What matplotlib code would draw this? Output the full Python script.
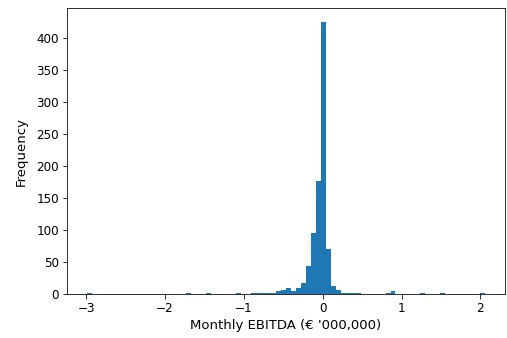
import matplotlib
matplotlib.use("Agg")
import matplotlib.pyplot as plt
import numpy as np

# histogram of monthly EBITDA, 80 bins between the min and max values
x_min, x_max = -2.99, 2.06
n_bins = 80

bin_index = [0, 20, 24, 30,
             33, 34, 35, 36, 37, 38, 39, 40, 41, 42, 43, 44, 45, 46, 47,
             48, 49, 50, 51, 52, 53, 54,
             60, 61, 67, 71, 79]
counts = [2, 2, 2, 2,
          2, 2, 2, 2, 2, 4, 6, 10, 4, 9, 17, 44, 95, 177, 425,
          70, 12, 6, 2, 2, 2, 2,
          2, 4, 2, 2, 2]

edges = np.linspace(x_min, x_max, n_bins + 1)
centers = (edges[:-1] + edges[1:]) / 2
values = centers[bin_index]

fig = plt.figure(figsize=(507/72, 338/72), dpi=72)
ax = fig.add_axes([67/507, 1 - 294/338, (505 - 67)/507, (294 - 8)/338])
ax.hist(values, bins=edges, weights=counts)
ax.set_xlabel("Monthly EBITDA (€ '000,000)", fontsize=13.2)
ax.set_ylabel("Frequency", fontsize=13.2, labelpad=9)
ax.tick_params(labelsize=12, length=4.5)
fig.savefig("out.png", dpi=72)
